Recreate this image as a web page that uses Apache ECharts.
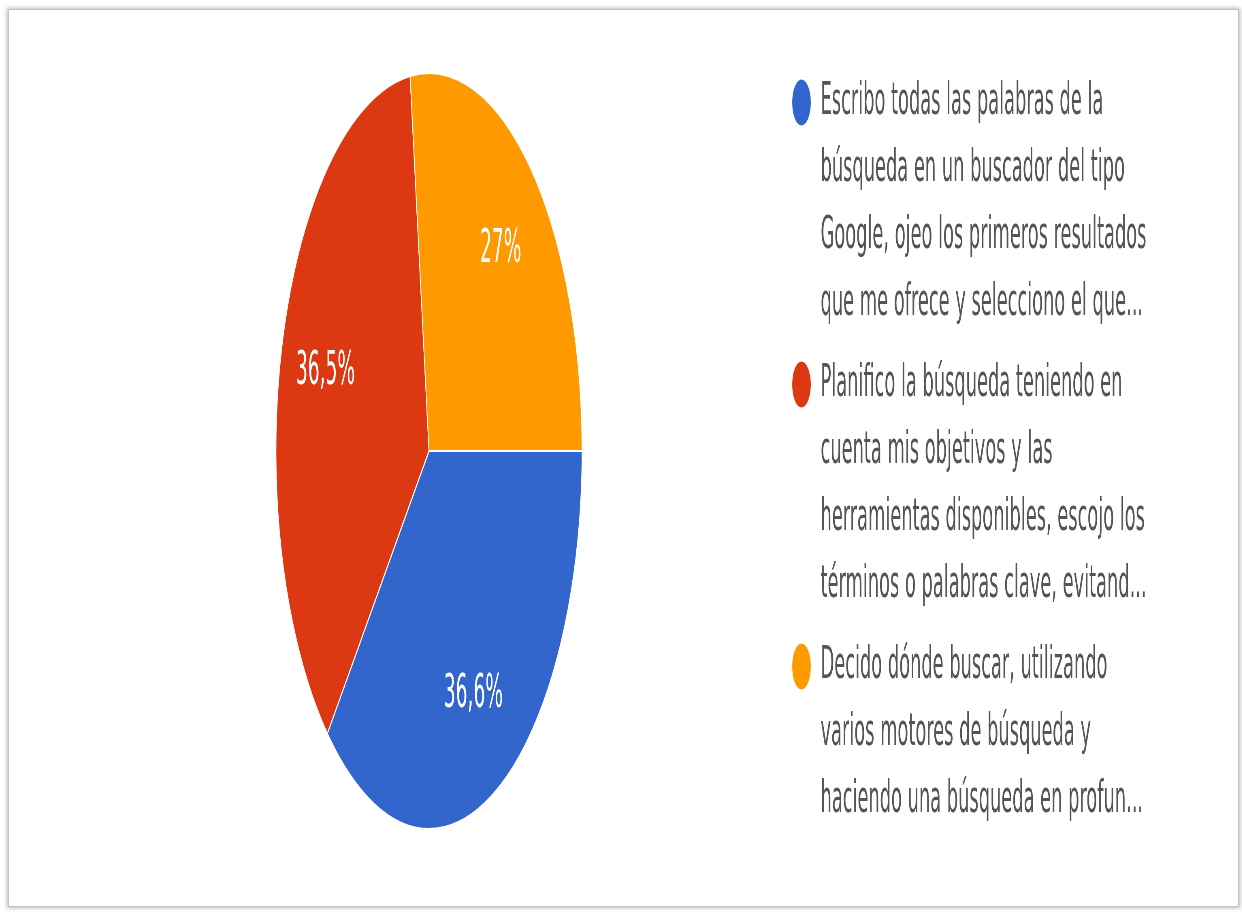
<!DOCTYPE html>
<html>
<head>
<meta charset="utf-8">
<script src="https://cdn.jsdelivr.net/npm/echarts@6/dist/echarts.min.js"></script>
<style>
  html, body { margin: 0; padding: 0; background: #fff; overflow: hidden; }
  #frame {
    position: absolute; left: 8px; top: 9px; width: 1229px; height: 896px;
    border: 1px solid #c4c4c4;
    box-shadow: 0 0 4px 1px rgba(0,0,0,0.28);
    background: #fff;
  }
  #chart {
    position: absolute; left: 0; top: 0; height: 915px;
    transform-origin: 0 0;
  }
</style>
</head>
<body>
<div id="frame"></div>
<div id="chart"></div>
<script>
// Answer options (legend wraps them over these lines)
const categoryLines = [
  ['Escribo todas las palabras de la', 'búsqueda en un buscador del tipo', 'Google, ojeo los primeros resultados', 'que me ofrece y selecciono el que...'],
  ['Planifico la búsqueda teniendo en', 'cuenta mis objetivos y las', 'herramientas disponibles, escojo los', 'términos o palabras clave, evitand...'],
  ['Decido dónde buscar, utilizando', 'varios motores de búsqueda y', 'haciendo una búsqueda en profun...']
];
const categories = categoryLines.map(l => l.join(' '));
const percents = [36.6, 36.5, 27];
const colors = ['#3366CC', '#DC3912', '#FF9900'];

// The chart is drawn wide and squeezed horizontally, giving the oval pie.
const SX = 0.405;
const W = 1242 / SX;
const el = document.getElementById('chart');
el.style.width = W + 'px';
el.style.transform = 'scaleX(' + SX + ')';

const FONT = '"DejaVu Sans", sans-serif';
const FS = 44;
const LINE_H = 67;
const TEXT_COLOR = '#555555';
const rich = {
  sp: { width: 46, height: 46, fontSize: FS, lineHeight: LINE_H },
  gap: { width: 24, fontSize: FS, lineHeight: LINE_H },
  t: { fontSize: FS, lineHeight: LINE_H, fontFamily: FONT, color: TEXT_COLOR }
};
colors.forEach((c, i) => {
  rich['d' + i] = { width: 46, height: 46, borderRadius: 23, backgroundColor: c, fontSize: FS, lineHeight: LINE_H };
});

const data = categories.map((name, i) => ({ name, value: percents[i], itemStyle: { color: colors[i] } }));
const R = 378;
const center = [429 / SX, 451];

const chart = echarts.init(el, null, { renderer: 'canvas' });
chart.setOption({
  animation: false,
  backgroundColor: 'transparent',
  legend: {
    orient: 'vertical',
    left: 1950,
    top: 69,
    padding: 0,
    itemGap: 14,
    itemWidth: 1,
    itemHeight: 1,
    icon: 'none',
    selectedMode: false,
    data: categories,
    textStyle: { fontFamily: FONT, fontSize: FS, lineHeight: LINE_H, color: TEXT_COLOR, rich },
    formatter: name => {
      const k = categories.indexOf(name);
      return categoryLines[k].map((line, j) =>
        (j === 0 ? '{d' + k + '| }' : '{sp| }') + '{gap| }' + '{t|' + line + '}'
      ).join('\n');
    }
  },
  series: [
    {
      type: 'pie',
      center,
      radius: [0, R],
      startAngle: 0,
      clockwise: true,
      silent: true,
      itemStyle: { borderColor: '#ffffff', borderWidth: 2 },
      label: { show: false },
      labelLine: { show: false },
      data
    },
    {
      // label ring: places the percentages at ~70% of the radius
      type: 'pie',
      center,
      radius: [R * 0.4, R],
      startAngle: 0,
      clockwise: true,
      silent: true,
      itemStyle: { color: 'rgba(0,0,0,0)', borderWidth: 0 },
      label: {
        show: true,
        position: 'inside',
        fontFamily: FONT,
        fontSize: 46,
        color: '#ffffff',
        formatter: p => String(p.value).replace('.', ',') + '%'
      },
      labelLine: { show: false },
      data: categories.map((name, i) => ({ name, value: percents[i] }))
    }
  ]
});
</script>
</body>
</html>
